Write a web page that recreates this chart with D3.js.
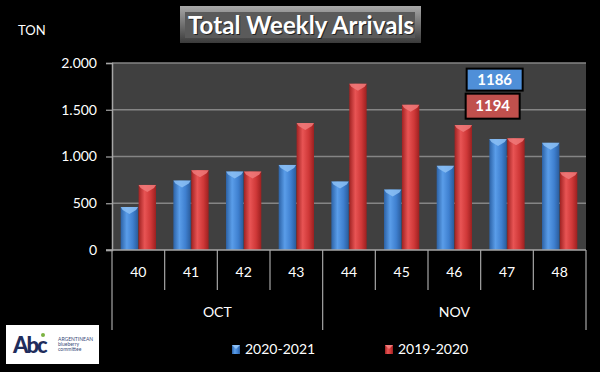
<!DOCTYPE html>
<html>
<head>
<meta charset="utf-8">
<script src="https://cdn.jsdelivr.net/npm/d3@7"></script>
<style>
  html, body { margin: 0; padding: 0; background: #000; }
  svg { display: block; }
  text { font-family: Lato, "Open Sans", sans-serif; }
</style>
</head>
<body>
<div class="container"></div>
<script>
// Data
const weeks = ["40", "41", "42", "43", "44", "45", "46", "47", "48"];
const months = [
  { name: "OCT", from: "40", to: "43" },
  { name: "NOV", from: "44", to: "48" },
];
const seriesNames = ["2020-2021", "2019-2020"];
const arrivals2021 = [460, 742, 839, 910, 732, 646, 900, 1186, 1146];
const arrivals1920 = [696, 854, 839, 1357, 1778, 1553, 1336, 1194, 832];
const yTicks = [0, 500, 1000, 1500, 2000];
const calloutLabels = ["1186", "1194"];

const WIDTH = 600;
const HEIGHT = 372;
const PLOT = { left: 112, right: 586, top: 63, bottom: 250 };

const svg = d3
  .select(".container")
  .append("svg")
  .attr("width", WIDTH)
  .attr("height", HEIGHT);

svg.append("rect").attr("width", WIDTH).attr("height", HEIGHT).attr("fill", "#000");

const defs = svg.append("defs");

// Cylinder-ish gradients for the bars
const addGradient = (id, stops) => {
  const g = defs
    .append("linearGradient")
    .attr("id", id)
    .attr("x1", "0%")
    .attr("x2", "100%")
    .attr("y1", "0%")
    .attr("y2", "0%");
  stops.forEach(([off, col]) => g.append("stop").attr("offset", off).attr("stop-color", col));
};
addGradient("blueGrad", [["0%", "#2c62a6"], ["35%", "#5a9de9"], ["70%", "#3f80d0"], ["100%", "#2a5c9c"]]);
addGradient("redGrad", [["0%", "#a02222"], ["35%", "#e85454"], ["70%", "#cf3838"], ["100%", "#9c2020"]]);

const titleGrad = defs
  .append("linearGradient")
  .attr("id", "titleGrad")
  .attr("x1", "0%").attr("x2", "0%").attr("y1", "0%").attr("y2", "100%");
titleGrad.append("stop").attr("offset", "0%").attr("stop-color", "#a8a8a8");
titleGrad.append("stop").attr("offset", "100%").attr("stop-color", "#3a3a3a");

const seriesFill = { "2020-2021": "url(#blueGrad)", "2019-2020": "url(#redGrad)" };
const capFill = { "2020-2021": "#8cc0f5", "2019-2020": "#f07a7a" };

// Scales
const x0 = d3.scaleBand().domain(weeks).range([PLOT.left, PLOT.right]);
const x1 = d3
  .scaleBand()
  .domain(seriesNames)
  .range([x0.bandwidth() * 0.165, x0.bandwidth() * 0.835])
  .paddingInner(0.03);
const y = d3.scaleLinear().domain([0, 2000]).range([PLOT.bottom, PLOT.top]);

const locale = d3.formatLocale({ decimal: ",", thousands: ".", grouping: [3], currency: ["", ""] });
const fmt = locale.format(",");

// Plot background
svg
  .append("rect")
  .attr("x", PLOT.left)
  .attr("y", PLOT.top)
  .attr("width", PLOT.right - PLOT.left)
  .attr("height", PLOT.bottom - PLOT.top)
  .attr("fill", "#404040");

// Gridlines
svg
  .append("g")
  .selectAll("line")
  .data(yTicks.filter((d) => d > 0))
  .join("line")
  .attr("x1", PLOT.left)
  .attr("x2", PLOT.right)
  .attr("y1", (d) => y(d))
  .attr("y2", (d) => y(d))
  .attr("stroke", "#858585")
  .attr("stroke-width", 1.5);

// Y axis
const yAxis = svg
  .append("g")
  .attr("transform", `translate(${PLOT.left},0)`)
  .call(d3.axisLeft(y).tickValues(yTicks).tickFormat(fmt).tickSize(6).tickPadding(9));
yAxis.select(".domain").attr("stroke", "#a6a6a6").attr("stroke-width", 1.5);
yAxis.selectAll(".tick line").attr("stroke", "#a6a6a6").attr("stroke-width", 1.2);
yAxis
  .selectAll(".tick text")
  .attr("fill", "#fff")
  .style("font-size", "14px")
  .style("font-family", "Lato, 'Open Sans', sans-serif");

svg
  .append("text")
  .attr("x", 18)
  .attr("y", 35)
  .attr("fill", "#fff")
  .style("font-size", "13px")
  .text("TON");

// Bars
const rows = weeks.map((w, i) => ({
  week: w,
  values: [
    { key: "2020-2021", value: arrivals2021[i] },
    { key: "2019-2020", value: arrivals1920[i] },
  ],
}));

const barGroups = svg
  .append("g")
  .selectAll("g")
  .data(rows)
  .join("g")
  .attr("transform", (d) => `translate(${x0(d.week)},0)`);

barGroups
  .selectAll("rect")
  .data((d) => d.values)
  .join("rect")
  .attr("x", (d) => x1(d.key))
  .attr("y", (d) => y(d.value))
  .attr("width", x1.bandwidth())
  .attr("height", (d) => y(0) - y(d.value))
  .attr("fill", (d) => seriesFill[d.key]);

// Bevelled caps on bar tops
barGroups
  .selectAll("path.cap")
  .data((d) => d.values)
  .join("path")
  .attr("class", "cap")
  .attr("d", (d) => {
    const bx = x1(d.key);
    const bw = x1.bandwidth();
    const by = y(d.value);
    return `M${bx},${by} L${bx + bw},${by} L${bx + bw - 2},${by + 3} L${bx + bw / 2},${by + 7} L${bx + 2},${by + 3} Z`;
  })
  .attr("fill", (d) => capFill[d.key])
  .attr("opacity", 0.85);

// X axis line
svg
  .append("line")
  .attr("x1", PLOT.left - 6)
  .attr("x2", PLOT.right)
  .attr("y1", PLOT.bottom)
  .attr("y2", PLOT.bottom)
  .attr("stroke", "#a6a6a6")
  .attr("stroke-width", 1.5);

// Week separators and labels
const bounds = weeks.map((w) => x0(w)).concat([PLOT.right]);
svg
  .append("g")
  .selectAll("line")
  .data(bounds)
  .join("line")
  .attr("x1", (d) => d)
  .attr("x2", (d) => d)
  .attr("y1", PLOT.bottom)
  .attr("y2", 290)
  .attr("stroke", "#a6a6a6")
  .attr("stroke-width", 1.2);

svg
  .append("g")
  .selectAll("text")
  .data(weeks)
  .join("text")
  .attr("x", (d) => x0(d) + x0.bandwidth() / 2)
  .attr("y", 277)
  .attr("text-anchor", "middle")
  .attr("fill", "#fff")
  .style("font-size", "14px")
  .text((d) => d);

// Month separators and labels
const monthBounds = [x0(months[0].from), x0(months[1].from), PLOT.right];
svg
  .append("g")
  .selectAll("line")
  .data(monthBounds)
  .join("line")
  .attr("x1", (d) => d)
  .attr("x2", (d) => d)
  .attr("y1", 290)
  .attr("y2", 330)
  .attr("stroke", "#a6a6a6")
  .attr("stroke-width", 1.2);

svg
  .append("g")
  .selectAll("text")
  .data(months)
  .join("text")
  .attr("x", (d) => (x0(d.from) + x0(d.to) + x0.bandwidth()) / 2)
  .attr("y", 317)
  .attr("text-anchor", "middle")
  .attr("fill", "#fff")
  .style("font-size", "14px")
  .text((d) => d.name);

// Callout boxes near week 47
const calloutColors = ["#4f8fd8", "#c0504d"];
const calloutY = [1940, 1672];
const callouts = svg
  .append("g")
  .selectAll("g")
  .data(calloutLabels)
  .join("g")
  .attr("transform", (d, i) => `translate(${x0("47") - 14 - i},${y(calloutY[i])})`);
callouts
  .append("rect")
  .attr("width", (d, i) => 56 - i * 2)
  .attr("height", (d, i) => 22 + i * 3)
  .attr("fill", (d, i) => calloutColors[i])
  .attr("stroke", "#000")
  .attr("stroke-width", 2);
callouts
  .append("text")
  .attr("x", (d, i) => (56 - i * 2) / 2)
  .attr("y", (d, i) => (22 + i * 3) / 2 + 5)
  .attr("text-anchor", "middle")
  .attr("fill", "#fff")
  .style("font-size", "15px")
  .style("font-weight", "bold")
  .text((d) => d);

// Title box
svg
  .append("rect")
  .attr("x", 180)
  .attr("y", 6)
  .attr("width", 241)
  .attr("height", 37)
  .attr("fill", "url(#titleGrad)");
svg
  .append("rect")
  .attr("x", 185)
  .attr("y", 12)
  .attr("width", 230)
  .attr("height", 26)
  .attr("fill", "#5a5a5a");
svg
  .append("text")
  .attr("x", 301)
  .attr("y", 34)
  .attr("text-anchor", "middle")
  .attr("fill", "#000")
  .attr("opacity", 0.6)
  .attr("dx", 1)
  .attr("dy", 1)
  .style("font-size", "24px")
  .style("font-weight", "bold")
  .attr("textLength", 226)
  .text("Total Weekly Arrivals");
svg
  .append("text")
  .attr("x", 301)
  .attr("y", 34)
  .attr("text-anchor", "middle")
  .attr("fill", "#fff")
  .style("font-size", "24px")
  .style("font-weight", "bold")
  .attr("textLength", 226)
  .text("Total Weekly Arrivals");

// Legend
const legendX = [232, 385];
const legend = svg
  .append("g")
  .selectAll("g")
  .data(seriesNames)
  .join("g")
  .attr("transform", (d, i) => `translate(${legendX[i]},345)`);
legend
  .append("rect")
  .attr("width", 8)
  .attr("height", 9)
  .attr("fill", (d) => seriesFill[d]);
legend
  .append("path")
  .attr("d", "M0,0 L8,0 L4,4 Z")
  .attr("fill", (d) => capFill[d]);
legend
  .append("text")
  .attr("x", 13)
  .attr("y", 9)
  .attr("fill", "#fff")
  .style("font-size", "14px")
  .text((d) => d);

// Logo
const logo = svg.append("g").attr("transform", "translate(6,325)");
logo.append("rect").attr("width", 93).attr("height", 39).attr("fill", "#fff");
logo
  .append("text")
  .attr("x", 7)
  .attr("y", 28)
  .attr("fill", "#1f2d5c")
  .style("font-size", "22px")
  .style("font-weight", "900")
  .style("letter-spacing", "-2px")
  .text("Abc");
logo
  .append("circle")
  .attr("cx", 37)
  .attr("cy", 10)
  .attr("r", 2)
  .attr("fill", "#7cb342");
const logoLines = ["ARGENTINEAN", "blueberry", "committee"];
logo
  .selectAll("text.sub")
  .data(logoLines)
  .join("text")
  .attr("class", "sub")
  .attr("x", 52)
  .attr("y", (d, i) => 16 + i * 5)
  .attr("fill", "#3a4a78")
  .style("font-size", "5px")
  .text((d) => d);
</script>
</body>
</html>
